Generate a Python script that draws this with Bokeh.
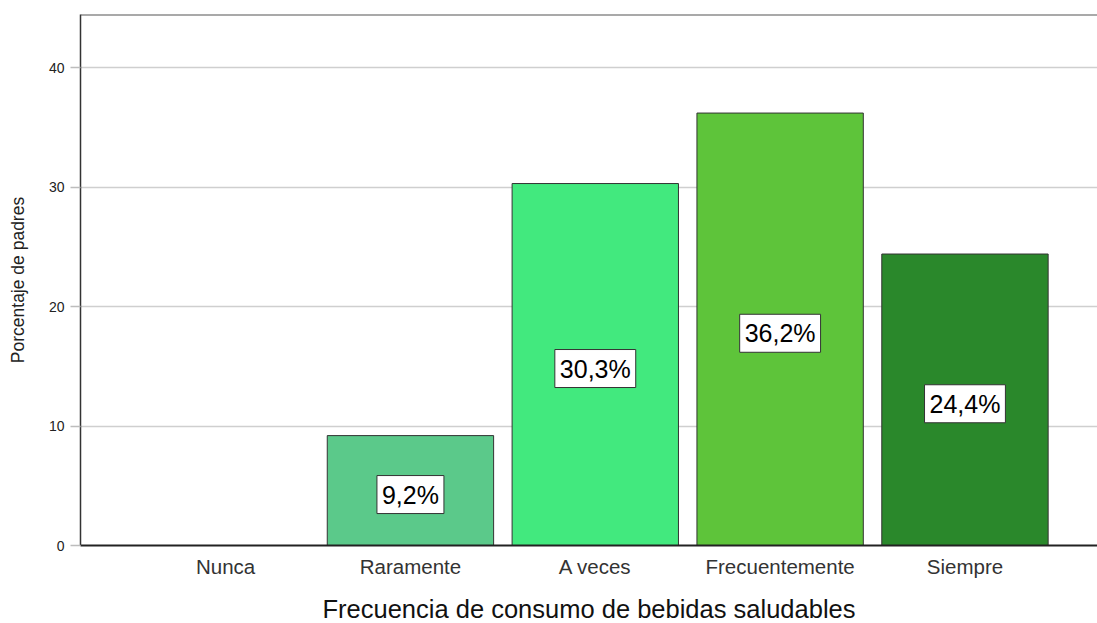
from bokeh.plotting import figure
from bokeh.models import Range1d, FixedTicker, Span, Label
from bokeh.embed import file_html
from bokeh.resources import INLINE

# Frecuencia de consumo de bebidas saludables (porcentaje de padres)
categories = ["Nunca", "Raramente", "A veces", "Frecuentemente", "Siempre"]
percentages = [0.0, 9.2, 30.3, 36.2, 24.4]
bar_colors = ["#5BC98A", "#5BC98A", "#42E97E", "#5EC43A", "#2A882B"]
y_ticks = [0, 10, 20, 30, 40]

FONT = "Liberation Sans"
positions = list(range(len(categories)))
y_top = 44.45

p = figure(
    frame_width=1017, frame_height=531,
    min_border_left=80, min_border_right=0,
    min_border_top=14, min_border_bottom=78,
    x_range=Range1d(-0.785, 4.717), y_range=Range1d(0, y_top),
    output_backend="svg", toolbar_location=None,
    background_fill_color="white", border_fill_color="white",
)
p.outline_line_color = None

# gridlines
p.xgrid.grid_line_color = None
p.ygrid.grid_line_color = "#cfcfcf"
p.ygrid.grid_line_width = 1.5
p.ygrid.ticker = FixedTicker(ticks=y_ticks)

# y axis
p.yaxis.ticker = FixedTicker(ticks=y_ticks)
p.yaxis.axis_label = "Porcentaje de padres"
p.yaxis.axis_label_text_font = FONT
p.yaxis.axis_label_text_font_style = "normal"
p.yaxis.axis_label_text_font_size = "17.5px"
p.yaxis.axis_label_text_color = "#222222"
p.yaxis.axis_label_standoff = 18
p.yaxis.major_label_text_font = FONT
p.yaxis.major_label_text_font_size = "14px"
p.yaxis.major_label_text_color = "#222222"
p.yaxis.major_label_standoff = 6
p.yaxis.major_tick_out = 10
p.yaxis.major_tick_in = 0
p.yaxis.major_tick_line_color = "#bdbdbd"
p.yaxis.major_tick_line_width = 1.5
p.yaxis.minor_tick_line_color = None
p.yaxis.axis_line_color = "#333333"
p.yaxis.axis_line_width = 1.5

# x axis with category names
p.xaxis.ticker = FixedTicker(ticks=positions)
p.xaxis.major_label_overrides = {i: c for i, c in zip(positions, categories)}
p.xaxis.axis_label = "Frecuencia de consumo de bebidas saludables"
p.xaxis.axis_label_text_font = FONT
p.xaxis.axis_label_text_font_style = "normal"
p.xaxis.axis_label_text_font_size = "25.5px"
p.xaxis.axis_label_text_color = "#111111"
p.xaxis.axis_label_standoff = 14
p.xaxis.major_label_text_font = FONT
p.xaxis.major_label_text_font_size = "20.5px"
p.xaxis.major_label_text_color = "#333333"
p.xaxis.major_label_standoff = 3
p.xaxis.major_tick_line_color = None
p.xaxis.minor_tick_line_color = None
p.xaxis.axis_line_color = "#222222"
p.xaxis.axis_line_width = 2

# top frame line
p.add_layout(Span(location=y_top, dimension="width", line_color="#555555", line_width=2))

# bars
p.vbar(x=positions, top=percentages, bottom=0, width=0.9,
       fill_color=bar_colors, line_color="#333333", line_width=1)

# value boxes at mid-height of each bar
for pos, val in zip(positions, percentages):
    if val <= 0:
        continue
    text = f"{val:.1f}".replace(".", ",") + "%"
    p.add_layout(Label(
        x=pos, y=val / 2, y_offset=-4, text=text,
        text_font=FONT, text_font_size="25px", text_color="#000000",
        text_align="center", text_baseline="middle",
        background_fill_color="white", border_line_color="#333333",
        border_line_width=1, padding=5,
    ))

open("out.html", "w").write(file_html(p, INLINE))
